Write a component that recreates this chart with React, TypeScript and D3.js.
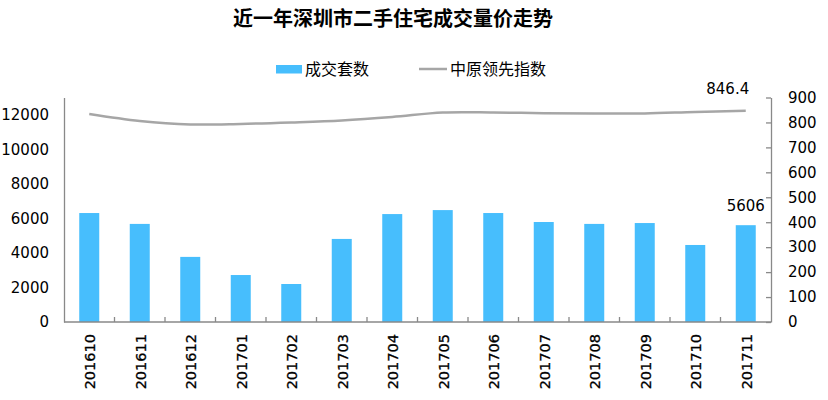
import React, { useEffect, useRef } from 'react';
import * as d3 from 'd3';

const months = ['201610', '201611', '201612', '201701', '201702', '201703', '201704', '201705', '201706', '201707', '201708', '201709', '201710', '201711'];
const deals = [6310, 5680, 3770, 2720, 2200, 4810, 6250, 6480, 6310, 5790, 5680, 5730, 4460, 5606];
const index = [834, 806, 792, 794, 800, 808, 822, 840, 840, 837, 836, 836, 842, 846.4];
const leftTicks = [0, 2000, 4000, 6000, 8000, 10000, 12000];
const rightTicks = [0, 100, 200, 300, 400, 500, 600, 700, 800, 900];

const App: React.FC = () => {
  const ref = useRef<SVGSVGElement>(null);

  useEffect(() => {
    if (!ref.current) return;
    const W = 828, H = 400;
    const left = 64, right = 771, top = 97.5, bottom = 322;
    const font = 'DejaVu Sans, Verdana, sans-serif';
    const cjk = '"Noto Sans CJK SC", sans-serif';

    const svg = d3.select(ref.current);
    svg.selectAll('*').remove();
    svg.attr('width', W).attr('height', H);
    svg.append('rect').attr('width', W).attr('height', H).attr('fill', '#fff');

    const x = d3.scaleBand().domain(months).range([left, right]);
    const yL = d3.scaleLinear().domain([0, 13000]).range([bottom, top]);
    const yR = d3.scaleLinear().domain([0, 900]).range([bottom, top]);

    // title
    svg.append('text')
      .attr('x', 393).attr('y', 26)
      .attr('text-anchor', 'middle')
      .attr('font-family', cjk).attr('font-weight', 'bold').attr('font-size', 20)
      .text('近一年深圳市二手住宅成交量价走势');

    // legend
    const lg = svg.append('g').attr('font-family', cjk).attr('font-size', 16).attr('fill', '#000');
    lg.append('rect').attr('x', 276).attr('y', 65).attr('width', 26).attr('height', 8.5).attr('fill', '#47BEFD');
    lg.append('text').attr('x', 305).attr('y', 75).text('成交套数');
    lg.append('line').attr('x1', 419).attr('x2', 447).attr('y1', 69).attr('y2', 69)
      .attr('stroke', '#a6a6a6').attr('stroke-width', 2.5);
    lg.append('text').attr('x', 450).attr('y', 75).text('中原领先指数');

    // bars
    const bw = 20;
    svg.append('g').selectAll('rect')
      .data(months)
      .enter()
      .append('rect')
      .attr('x', d => (x(d) ?? 0) + x.bandwidth() / 2 - bw / 2)
      .attr('y', (d, i) => yL(deals[i]))
      .attr('width', bw)
      .attr('height', (d, i) => bottom - yL(deals[i]))
      .attr('fill', '#47BEFD');

    // axes
    const axisColor = '#898989';
    const gl = svg.append('g').attr('transform', `translate(${left},0)`)
      .call(d3.axisLeft(yL).tickValues(leftTicks).tickFormat(d3.format('d')).tickSize(0).tickPadding(15));
    gl.select('.domain').attr('stroke', axisColor).attr('stroke-width', 1.3);
    gl.selectAll('text').attr('font-family', font).attr('font-size', 15).attr('fill', '#000');

    const gr = svg.append('g').attr('transform', `translate(${right},0)`)
      .call(d3.axisRight(yR).tickValues(rightTicks).tickSizeInner(-5).tickSizeOuter(0).tickPadding(17));
    gr.select('.domain').attr('stroke', axisColor).attr('stroke-width', 1.3);
    gr.selectAll('line').attr('stroke', axisColor).attr('stroke-width', 1.3);
    gr.selectAll('text').attr('font-family', font).attr('font-size', 15).attr('fill', '#000');

    // x axis
    svg.append('line').attr('x1', left).attr('x2', right).attr('y1', bottom).attr('y2', bottom)
      .attr('stroke', axisColor).attr('stroke-width', 1.3);
    svg.append('g').selectAll('line')
      .data(months.slice(1))
      .enter()
      .append('line')
      .attr('x1', d => x(d) ?? 0).attr('x2', d => x(d) ?? 0)
      .attr('y1', bottom).attr('y2', bottom - 5)
      .attr('stroke', axisColor).attr('stroke-width', 1.3);
    svg.append('g').selectAll('text')
      .data(months)
      .enter()
      .append('text')
      .attr('transform', d => `translate(${(x(d) ?? 0) + x.bandwidth() / 2 + 6},${bottom + 12}) rotate(-90)`)
      .attr('text-anchor', 'end')
      .attr('font-family', font).attr('font-size', 14.5).attr('fill', '#000')
      .attr('stroke', '#000').attr('stroke-width', 0.3)
      .text(d => d);

    // index line
    const line = d3.line<number>()
      .x((d, i) => (x(months[i]) ?? 0) + x.bandwidth() / 2)
      .y(d => yR(d))
      .curve(d3.curveCatmullRom.alpha(0.5));
    svg.append('path')
      .datum(index)
      .attr('d', line)
      .attr('fill', 'none')
      .attr('stroke', '#a6a6a6')
      .attr('stroke-width', 2.5);

    // value labels
    const last = months.length - 1;
    const cx = (x(months[last]) ?? 0) + x.bandwidth() / 2;
    svg.append('text')
      .attr('x', cx - 18).attr('y', yR(index[last]) - 17)
      .attr('text-anchor', 'middle')
      .attr('font-family', font).attr('font-size', 15)
      .text(String(index[last]));
    svg.append('text')
      .attr('x', cx).attr('y', yL(deals[last]) - 14)
      .attr('text-anchor', 'middle')
      .attr('font-family', font).attr('font-size', 15)
      .text(String(deals[last]));
  }, []);

  return (
    <svg ref={ref} style={{ position: 'absolute', left: 0, top: 0 }} />
  );
};

export default App;
